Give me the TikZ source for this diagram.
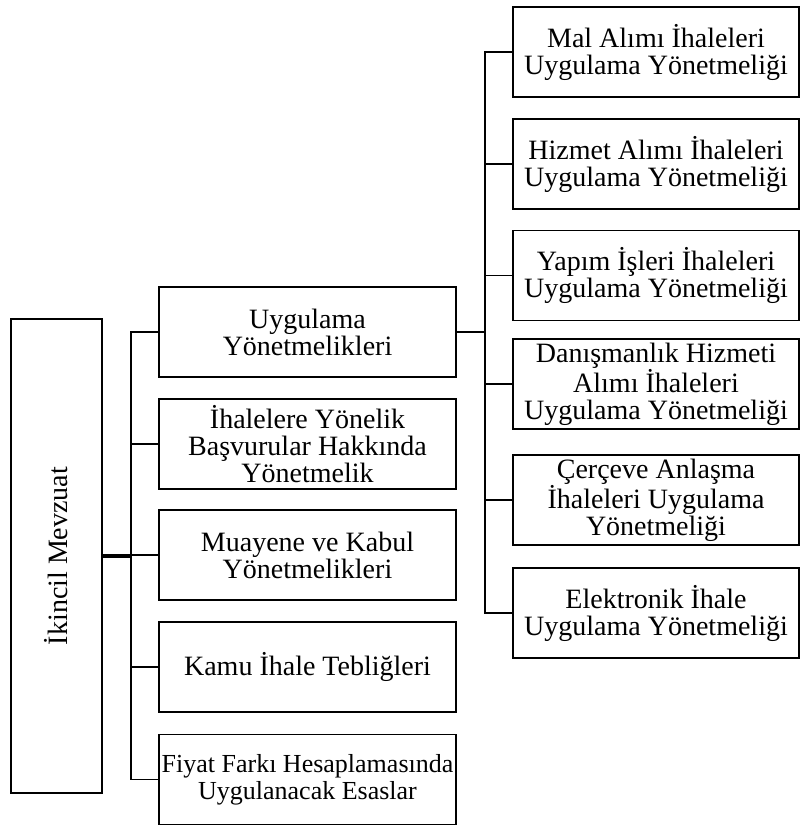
\documentclass[tikz,border=0pt]{standalone}
\usepackage{fontspec}
\setmainfont{Liberation Serif}
\begin{document}
\begin{tikzpicture}[x=1pt,y=-1pt,
  box/.style={draw=black,line width=1.8pt,inner sep=0pt,align=center,
    font=\fontsize{28}{27}\selectfont},
  lbox/.style={box,minimum width=297pt,minimum height=90pt},
  rbox/.style={box,minimum width=286pt,minimum height=90pt},
  conn/.style={line width=1.5pt},
  rootconn/.style={line width=3.5pt}]
\useasboundingbox (0,0) rectangle (800,825);
\node[box,minimum width=91pt,minimum height=474pt] (root) at (56.5,556) {};
\node[rotate=90,font=\fontsize{28}{27}\selectfont] (roottext) at (root.center) {İkincil Mevzuat};
\node[lbox] (l1) at (307.5,332) {Uygulama\\Yönetmelikleri};
\node[lbox] (l2) at (307.5,444) {İhalelere Yönelik\\Başvurular Hakkında\\Yönetmelik};
\node[lbox] (l3) at (307.5,555) {Muayene ve Kabul\\Yönetmelikleri};
\node[lbox] (l4) at (307.5,667) {Kamu İhale Tebliğleri};
\node[lbox,font=\fontsize{26}{27}\selectfont] (l5) at (307.5,779.5) {Fiyat Farkı Hesaplamasında\\Uygulanacak Esaslar};
\node[rbox] (r1) at (656,52) {Mal Alımı İhaleleri\\Uygulama Yönetmeliği};
\node[rbox] (r2) at (656,164) {Hizmet Alımı İhaleleri\\Uygulama Yönetmeliği};
\node[rbox] (r3) at (656,275.5) {Yapım İşleri İhaleleri\\Uygulama Yönetmeliği};
\node[rbox] (r4) at (656,384) {Danışmanlık Hizmeti\\Alımı İhaleleri\\Uygulama Yönetmeliği};
\node[rbox] (r5) at (656,500) {Çerçeve Anlaşma\\İhaleleri Uygulama\\Yönetmeliği};
\node[rbox] (r6) at (656,613) {Elektronik İhale\\Uygulama Yönetmeliği};
\coordinate (lb) at (131,0);
\coordinate (rb) at (485,0);
\draw[rootconn] (root.east) -- (root.east -| lb);
\draw[conn] (l1.west) -- (l1.west -| lb) -- (l5.west -| lb) -- (l5.west);
\foreach \n in {l2,l3,l4} \draw[conn] (\n.west) -- (\n.west -| lb);
\draw[conn] (l1.east) -- (l1.east -| rb);
\draw[conn] (r1.west) -- (r1.west -| rb) -- (r6.west -| rb) -- (r6.west);
\foreach \n in {r2,r3,r4,r5} \draw[conn] (\n.west) -- (\n.west -| rb);
\end{tikzpicture}
\end{document}
